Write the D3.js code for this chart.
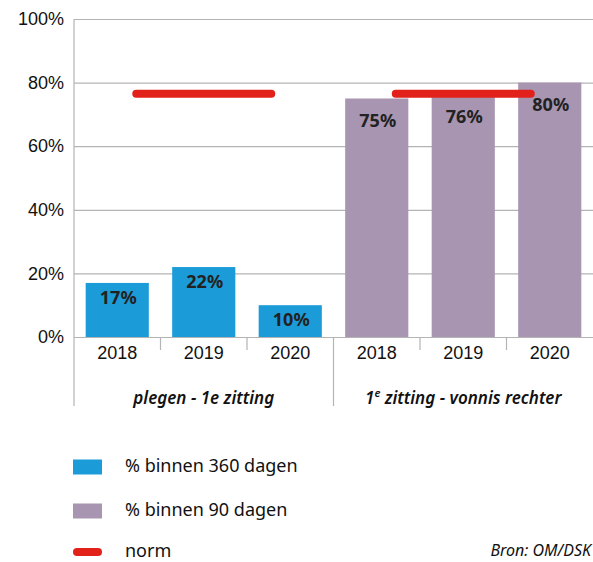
<!DOCTYPE html>
<html>
<head>
  <meta charset="utf-8">
  <style>
    body { margin: 0; background: #fff; font-family: 'Noto Sans', sans-serif; }
    .grid line { stroke: #b4b4b4; stroke-width: 1.2px; }
    .grid text { font-size: 18px; fill: #111; }
    .xaxis text { font-size: 18px; fill: #111; }
    .sep { stroke: #b4b4b4; stroke-width: 1.2px; }
    .val { font-size: 18px; font-weight: bold; fill: #222; text-anchor: middle; }
    .group { font-size: 17px; font-style: italic; font-weight: 600; fill: #111; text-anchor: middle; }
    .legend { font-size: 18px; fill: #111; }
    .norm { stroke: #e3211b; stroke-width: 8px; stroke-linecap: round; }
  </style>
</head>
<body>
  <script src="https://cdn.jsdelivr.net/npm/d3@7"></script>
  <script>
  // data
  var years = ["2018", "2019", "2020"]
  var within360 = [17, 22, 10]
  var within90 = [75, 76, 80]
  var norm = [76.5, 76.5]
  var yTicks = [0, 20, 40, 60, 80, 100]
  var groupLabels = [
    [{t: "plegen - 1e zitting"}],
    [{t: "1"}, {t: "e", sup: true}, {t: " zitting - vonnis rechter"}]
  ]
  var seriesNames = ["% binnen 360 dagen", "% binnen 90 dagen", "norm"]
  var colors = ["#1b9cd8", "#a895b1", "#e3211b"]

  var width = 593
  var height = 562
  var plotL = 74, plotR = 593, plotT = 19, plotB = 337

  var svg = d3.select("body").append("svg")
    .attr("width", width)
    .attr("height", height)

  // categories: group index + year
  var cats = []
  for (var g = 0; g < 2; g++) {
    for (var i = 0; i < years.length; i++) {
      cats.push({g: g, year: years[i], key: g + "-" + years[i], v: g == 0 ? within360[i] : within90[i]})
    }
  }

  var x = d3.scaleBand()
    .domain(cats.map(function(d) { return d.key }))
    .range([plotL, plotR])
    .paddingInner(0.27)
    .paddingOuter(0.135)

  var y = d3.scaleLinear().domain([0, 100]).range([plotB, plotT])

  // gridlines + y labels
  var grid = svg.append("g")
    .attr("class", "grid")
    .attr("transform", "translate(" + plotL + ",0)")
    .call(d3.axisLeft(y).tickValues(yTicks).tickSize(-(plotR - plotL)).tickPadding(10)
      .tickFormat(function(d) { return d + "%" }))
  grid.select(".domain").remove()

  // bars
  svg.selectAll(".bar")
    .data(cats)
    .enter().append("rect")
    .attr("x", function(d) { return x(d.key) })
    .attr("y", function(d) { return y(d.v) })
    .attr("width", x.bandwidth())
    .attr("height", function(d) { return y(0) - y(d.v) })
    .attr("fill", function(d) { return colors[d.g] })

  // x labels
  var xa = svg.append("g")
    .attr("class", "xaxis")
    .attr("transform", "translate(0," + plotB + ")")
    .call(d3.axisBottom(x).tickSize(0).tickPadding(9)
      .tickFormat(function(k) { return k.split("-")[1] }))
  xa.select(".domain").remove()

  // axis lines and separators
  var step = x.step()
  svg.append("line").attr("class", "sep")
    .attr("x1", plotL).attr("x2", plotL).attr("y1", plotT).attr("y2", 406)
  for (var j = 1; j < cats.length; j++) {
    var xs = plotL + j * step
    svg.append("line").attr("class", "sep")
      .attr("x1", xs).attr("x2", xs)
      .attr("y1", plotB).attr("y2", j == 3 ? 406 : 350)
  }

  // value labels
  svg.selectAll(".val")
    .data(cats)
    .enter().append("text")
    .attr("class", "val")
    .attr("x", function(d) { return x(d.key) + x.bandwidth() / 2 + 1 })
    .attr("y", function(d) { return y(d.v) + (d.g == 0 ? 21 : 28) })
    .text(function(d) { return d.v + "%" })

  // norm lines
  norm.forEach(function(n, g) {
    var a = x(g + "-" + years[0]) + x.bandwidth() / 2 + 19
    var b = x(g + "-" + years[years.length - 1]) + x.bandwidth() / 2 - 19
    svg.append("line").attr("class", "norm")
      .attr("x1", a).attr("x2", b).attr("y1", y(n)).attr("y2", y(n))
  })

  // group labels
  groupLabels.forEach(function(parts, g) {
    var cx = plotL + (g * 3 + 1.5) * step
    var t = svg.append("text").attr("class", "group").attr("x", cx).attr("y", 404)
    parts.forEach(function(p) {
      var s = t.append("tspan").text(p.t)
      if (p.sup) s.attr("baseline-shift", "super").attr("font-size", "11px")
    })
  })

  // legend
  var ly = [467, 511, 552]
  seriesNames.forEach(function(name, k) {
    if (k < 2) {
      svg.append("rect").attr("x", 73).attr("y", ly[k] - 7.5).attr("width", 29).attr("height", 15)
        .attr("fill", colors[k])
    } else {
      svg.append("line").attr("class", "norm")
        .attr("x1", 77).attr("x2", 98).attr("y1", ly[k]).attr("y2", ly[k])
        .attr("stroke-width", 7)
    }
    svg.append("text").attr("class", "legend")
      .attr("x", 125).attr("y", ly[k] + 5).text(name)
  })

  svg.append("text")
    .attr("x", 591).attr("y", 556)
    .attr("text-anchor", "end")
    .attr("font-size", "16px")
    .attr("font-style", "italic")
    .attr("fill", "#111")
    .text("Bron: OM/DSK")
  </script>
</body>
</html>
